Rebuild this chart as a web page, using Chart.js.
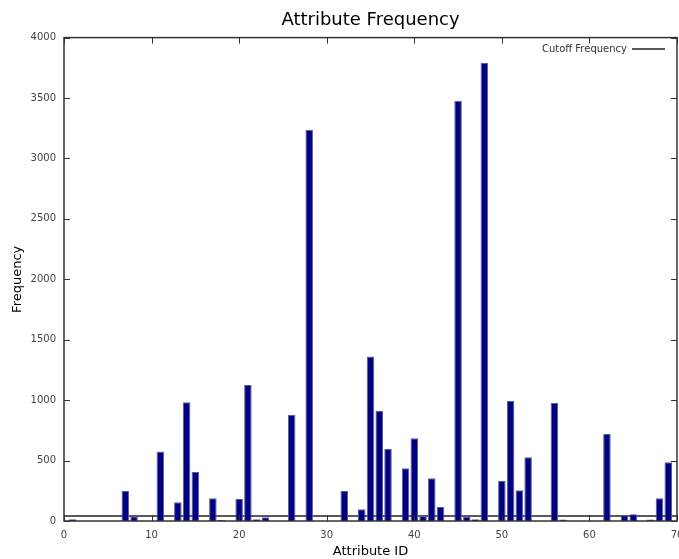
<!DOCTYPE html>
<html>
<head>
<meta charset="utf-8">
<title>Attribute Frequency</title>
<script src="https://cdn.jsdelivr.net/npm/chart.js@4.4.1/dist/chart.umd.min.js"></script>
<style>
    html, body { margin: 0; padding: 0; background: #ffffff; }
    #wrap { width: 679px; height: 559px; }
</style>
</head>
<body>
<div id="wrap"><canvas id="chart"></canvas></div>
<script>
// attribute id -> how often it shows up
const attributeIds = [1, 7, 8, 11, 13, 14, 15, 17, 18, 20, 21, 22, 23, 26, 28, 32, 34, 35, 36, 37, 39, 40, 41, 42, 43, 45, 46, 47, 48, 50, 51, 52, 53, 56, 57, 62, 64, 65, 67, 68, 69];
const frequencies = [15, 248, 40, 575, 155, 983, 406, 188, 8, 182, 1126, 15, 30, 880, 3238, 248, 97, 1361, 913, 596, 436, 685, 41, 354, 116, 3478, 37, 15, 3790, 331, 996, 254, 527, 978, 12, 723, 47, 55, 12, 188, 486];
const cutoffFrequency = 42;
const xRange = [0, 70];
const yRange = [0, 4000];

const FONT = "'DejaVu Sans', 'Liberation Sans', sans-serif";
const BAR_COLOR = "#000080";
const TICK_COLOR = "#444444";

// gnuplot style frame: box around the plot, ticks pointing inwards on all four sides
const frameTicks = {
    id: "frameTicks",
    afterDatasetsDraw(chart) {
        const { ctx, chartArea: { left, right, top, bottom }, scales: { x, y } } = chart;
        ctx.save();
        ctx.strokeStyle = "#333333";
        ctx.lineWidth = 1;
        ctx.beginPath();
        x.ticks.forEach(t => {
            const px = Math.round(x.getPixelForValue(t.value)) + 0.5;
            ctx.moveTo(px, bottom); ctx.lineTo(px, bottom - 6);
            ctx.moveTo(px, top); ctx.lineTo(px, top + 6);
        });
        y.ticks.forEach(t => {
            const py = Math.round(y.getPixelForValue(t.value)) + 0.5;
            ctx.moveTo(left, py); ctx.lineTo(left + 6, py);
            ctx.moveTo(right, py); ctx.lineTo(right - 6, py);
        });
        ctx.stroke();
        ctx.lineWidth = 1.5;
        ctx.strokeRect(left, top, right - left, bottom - top);
        ctx.restore();
    }
};

// key in the top right corner, text first then the line sample
const cornerKey = {
    id: "cornerKey",
    afterDraw(chart) {
        const { ctx, chartArea: { right, top } } = chart;
        const ds = chart.data.datasets[1];
        const yMid = top + 11.5;
        ctx.save();
        ctx.font = "10px " + FONT;
        ctx.fillStyle = "#333333";
        ctx.textAlign = "right";
        ctx.textBaseline = "middle";
        ctx.fillText(ds.label, right - 50, yMid);
        ctx.strokeStyle = ds.borderColor;
        ctx.lineWidth = 1.5;
        ctx.beginPath();
        ctx.moveTo(right - 45, yMid);
        ctx.lineTo(right - 12, yMid);
        ctx.stroke();
        ctx.restore();
    }
};

const ctx = document.getElementById("chart").getContext("2d");

new Chart(ctx, {
    type: "bar",
    data: {
        datasets: [{
            label: "Frequency",
            data: attributeIds.map((id, i) => ({ x: id, y: frequencies[i] })),
            backgroundColor: BAR_COLOR,
            borderColor: "#5c5c92",
            borderWidth: 1,
            barPercentage: 0.86,
            categoryPercentage: 1,
            order: 1
        }, {
            type: "line",
            label: "Cutoff Frequency",
            data: [{ x: xRange[0], y: cutoffFrequency }, { x: xRange[1], y: cutoffFrequency }],
            borderColor: "#222222",
            backgroundColor: "#222222",
            borderWidth: 1.5,
            pointRadius: 0,
            fill: false,
            order: 2
        }]
    },
    options: {
        responsive: true,
        maintainAspectRatio: false,
        animation: false,
        layout: { padding: { left: 0, right: 2, top: 0, bottom: 0 } },
        scales: {
            x: {
                type: "linear",
                min: xRange[0],
                max: xRange[1],
                offset: false,
                grid: { display: false, drawTicks: false },
                border: { display: false },
                ticks: {
                    stepSize: 10,
                    padding: 8,
                    color: TICK_COLOR,
                    font: { family: FONT, size: 10 },
                    callback: v => String(v)
                },
                title: {
                    display: true,
                    text: "Attribute ID",
                    color: "#000000",
                    font: { family: FONT, size: 13 },
                    padding: { top: 0, bottom: 0 }
                },
                afterFit(scale) {
                    // let the last label run off the edge like the original
                    scale.paddingRight = 0;
                    scale.paddingLeft = 0;
                    scale.height = 38;
                }
            },
            y: {
                min: yRange[0],
                max: yRange[1],
                grid: { display: false, drawTicks: false },
                border: { display: false },
                ticks: {
                    stepSize: 500,
                    padding: 8,
                    color: TICK_COLOR,
                    font: { family: FONT, size: 10 },
                    callback: v => String(v)
                },
                title: {
                    display: true,
                    text: "Frequency",
                    color: "#000000",
                    font: { family: FONT, size: 13 },
                    padding: { top: 10, bottom: 0 }
                },
                afterFit(scale) {
                    scale.width = 64;
                }
            }
        },
        plugins: {
            title: {
                display: true,
                text: "Attribute Frequency",
                color: "#000000",
                fullSize: false,
                font: { family: FONT, size: 18, weight: "normal" },
                padding: { top: 10, bottom: 6 }
            },
            legend: { display: false },
            tooltip: { enabled: false }
        }
    },
    plugins: [frameTicks, cornerKey]
});
</script>
</body>
</html>
